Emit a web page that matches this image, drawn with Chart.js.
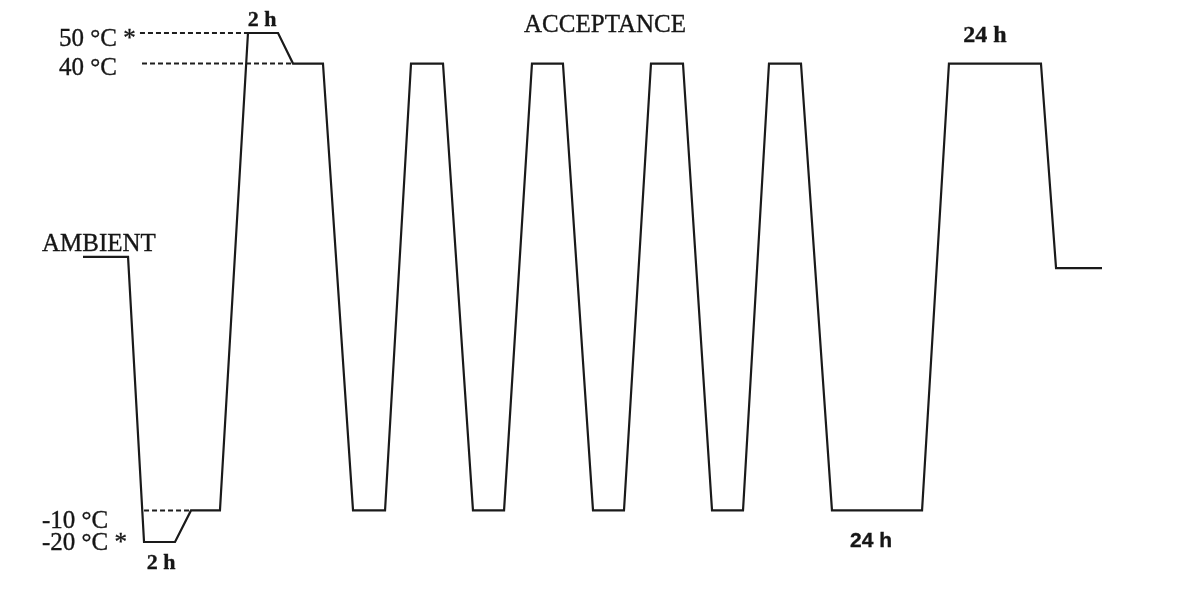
<!DOCTYPE html>
<html>
<head>
<meta charset="utf-8">
<script src="https://cdn.jsdelivr.net/npm/chart.js@4"></script>
<style>
  html, body { margin: 0; padding: 0; background: #ffffff; }
  #wrap { position: relative; width: 1194px; height: 593px; }
</style>
</head>
<body>
<div id="wrap"><canvas id="c"></canvas></div>
<script>
// Schematic diagram units: time 0..100 (left to right), level 0..100 (-20 °C .. 50 °C)
const levelNames   = ['50 °C *', '40 °C', '-10 °C', '-20 °C *'];
const levelHeights = [100, 94.0, 6.2, 0];

const profileTime  = [0, 4.42, 5.99, 9.03, 10.60, 13.44, 16.19, 19.14, 20.61, 23.55,
                      26.50, 29.64, 32.19, 35.33, 38.27, 41.32, 44.06, 47.10, 50.05, 53.09,
                      55.74, 58.88, 61.73, 64.77, 67.32, 70.46, 73.50, 82.34, 84.98, 94.01,
                      95.49, 100];
const profileLevel = [56.0, 56.0, 0, 0, 6.2, 6.2, 100, 100, 94, 94,
                      6.2, 6.2, 94, 94, 6.2, 6.2, 94, 94, 6.2, 6.2,
                      94, 94, 6.2, 6.2, 94, 94, 6.2, 6.2, 94, 94,
                      53.8, 53.8];

const guideStart = [5.59, 5.79, 5.99];
const guideEnd   = [16.19, 20.61, 10.60];
const guideLevel = [100, 94, 6.2];

const annotationTexts = ['AMBIENT', 'ACCEPTANCE', '2 h', '2 h', '24 h', '24 h'];

const profileData = profileTime.map((t, i) => ({ x: t, y: profileLevel[i] }));
const guideSets = guideLevel.map((lv, i) => ({
  data: [{ x: guideStart[i], y: lv }, { x: guideEnd[i], y: lv }],
  borderColor: '#1e1e1e',
  borderWidth: 2,
  borderDash: [5, 3],
  pointRadius: 0,
  showLine: true,
  clip: false
}));

const textPlugin = {
  id: 'texts',
  afterDatasetsDraw(chart) {
    const ctx = chart.ctx;
    const ys = chart.scales.y;
    ctx.save();
    ctx.fillStyle = '#161616';
    ctx.strokeStyle = '#161616';
    ctx.lineWidth = 0.35;
    ctx.textBaseline = 'middle';
    const draw = (t, x, y) => { ctx.fillText(t, x, y); ctx.strokeText(t, x, y); };
    // level labels
    const levelX = [59, 59, 42, 42];
    const levelDy = [6, 5, 11, 1];
    ctx.font = '25px "Liberation Serif", serif';
    ctx.textAlign = 'left';
    levelNames.forEach((name, i) => {
      draw(name, levelX[i], ys.getPixelForValue(levelHeights[i]) + levelDy[i]);
    });
    // other annotations
    const spec = [
      { x: 42,  y: 244, align: 'left',   font: '25px "Liberation Serif", serif' },
      { x: 605, y: 25,  align: 'center', font: '25px "Liberation Serif", serif' },
      { x: 262, y: 20,  align: 'center', font: 'bold 22px "Liberation Serif", serif' },
      { x: 161, y: 563, align: 'center', font: 'bold 22px "Liberation Serif", serif' },
      { x: 985, y: 36,  align: 'center', font: 'bold 24px "Liberation Serif", serif' },
      { x: 871, y: 541, align: 'center', font: 'bold 21px "Liberation Sans", sans-serif' }
    ];
    annotationTexts.forEach((t, i) => {
      const s = spec[i];
      ctx.font = s.font;
      ctx.textAlign = s.align;
      draw(t, s.x, s.y);
    });
    ctx.restore();
  }
};

new Chart(document.getElementById('c'), {
  type: 'scatter',
  data: {
    datasets: [{
      data: profileData,
      borderColor: '#1a1a1a',
      borderWidth: 2.2,
      pointRadius: 0,
      showLine: true,
      clip: false,
      borderJoinStyle: 'miter'
    }, ...guideSets]
  },
  options: {
    responsive: true,
    maintainAspectRatio: false,
    animation: false,
    layout: { padding: { left: 83, right: 92, top: 33, bottom: 51 } },
    plugins: { legend: { display: false }, tooltip: { enabled: false } },
    scales: {
      x: { type: 'linear', min: 0, max: 100, display: false },
      y: { type: 'linear', min: 0, max: 100, display: false }
    }
  },
  plugins: [textPlugin]
});
</script>
</body>
</html>
